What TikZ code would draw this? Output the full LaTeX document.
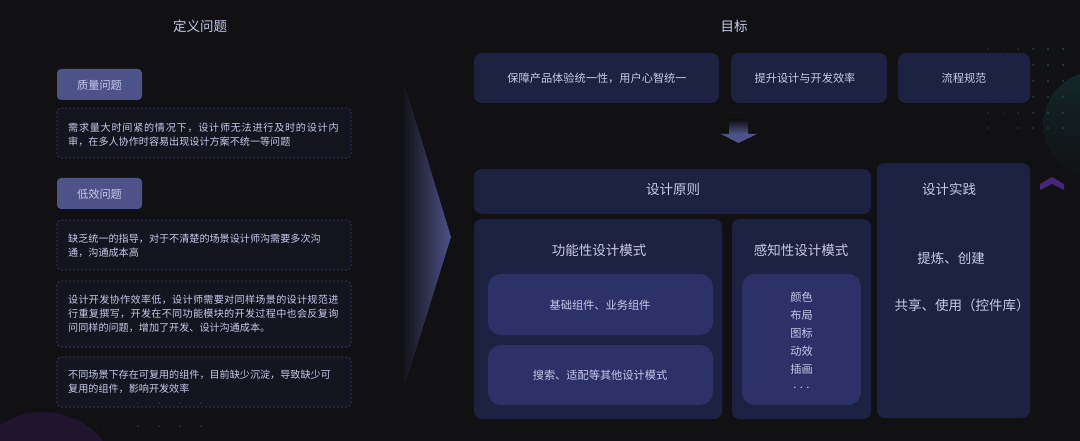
\documentclass[tikz,border=0pt]{standalone}
\usepackage{fontspec}
\setmainfont{Noto Sans CJK SC}
\usepackage{tikz}
\definecolor{pagebg}{HTML}{111114}
\definecolor{panelfill}{HTML}{1F2446}
\definecolor{innerfill}{HTML}{2C3168}
\definecolor{tagfill}{HTML}{4D5288}
\definecolor{notefill}{HTML}{161622}
\definecolor{noteline}{HTML}{453F7A}
\definecolor{inktext}{HTML}{C6C9E8}
\definecolor{dotteal}{HTML}{1A6660}
\definecolor{blobviolet}{HTML}{20152C}
\definecolor{chevronviolet}{HTML}{47267A}
\newcommand{\spreadline}[2]{{\addfontfeature{LetterSpace=#1}#2}}
\tikzset{
  panel/.style={fill=panelfill,fill opacity=0.93,rounded corners=8pt},
  innerpanel/.style={fill=innerfill,rounded corners=13pt},
  tagbox/.style={fill=tagfill,rounded corners=4pt},
  notebox/.style={fill=notefill,fill opacity=0.9,draw=noteline,dash pattern=on 2pt off 2pt,rounded corners=4pt,line width=0.7pt},
  lbl/.style={text=inktext,font=\fontsize{11.2}{14}\selectfont,inner sep=0pt},
  headlbl/.style={text=inktext,font=\fontsize{13.5}{16}\selectfont,inner sep=0pt},
  notelbl/.style={text=inktext,font=\fontsize{10.1}{14}\selectfont,inner sep=0pt,align=left,anchor=west}
}
\begin{document}
\begin{tikzpicture}[x=1pt,y=-1pt]
\useasboundingbox (0,0) rectangle (1080,441);
\fill[pagebg] (0,0) rectangle (1080,441);

% backdrop
\begin{scope}
\clip (0,0) rectangle (1080,441);
\fill[top color=dotteal!28!pagebg,bottom color=pagebg,middle color=dotteal!12!pagebg] (1097,125) circle (54);
\fill[blobviolet] (43,489) circle (77);
\foreach \x/\o in {988/0.5,1003/0.25,1018/0.55,1033/0.75,1048/0.9,1063/0.9}
  \foreach \y in {49,65,81,97,113,128}
    \fill[dotteal,opacity=\o] (\x,\y) circle (0.9);
\foreach \x/\o in {96/0.4,117/0.15,138/0.6,159/0.7,180/0.6,201/0.7}
  \fill[dotteal,opacity=\o] (\x,426) circle (0.9);
\end{scope}
\fill[chevronviolet] (1040,184) -- (1052,177) -- (1064,184) -- (1064,190) -- (1052,184) -- (1040,190) -- cycle;

% big arrow
\fill[left color=pagebg,right color=tagfill] (402,75) -- (451,237) -- (402,395) -- cycle;

% left column
\node[headlbl] (titleleft) at (200,26) {定义问题};
\fill[tagbox] (57,69) rectangle (142,100);
\node[lbl] (tagone) at (99.5,85.5) {质量问题};
\draw[notebox] (57,108) rectangle (351,158);
\node[notelbl] (noteone) at (68,135) {\spreadline{7.4}{需求量大时间紧的情况下，设计师无法进行及时的设计内}\\审，在多人协作时容易出现设计方案不统一等问题};
\fill[tagbox] (57,178) rectangle (142,209);
\node[lbl] (tagtwo) at (99.5,194.5) {低效问题};
\draw[notebox] (57,220) rectangle (351,270);
\node[notelbl] (notetwo) at (68,246) {缺乏统一的指导，对于不清楚的场景设计师沟需要多次沟\\通，沟通成本高};
\draw[notebox] (57,281) rectangle (351,347);
\node[notelbl] (notethree) at (68,314) {\spreadline{3}{设计开发协作效率低，设计师需要对同样场景的设计规范进}\\\spreadline{3}{行重复撰写，开发在不同功能模块的开发过程中也会反复询}\\问同样的问题，增加了开发、设计沟通成本。};
\draw[notebox] (57,357) rectangle (351,407);
\node[notelbl] (notefour) at (68,382) {不同场景下存在可复用的组件，目前缺少沉淀，导致缺少可\\复用的组件，影响开发效率};
\foreach \x/\o in {96/0.4,117/0.1,138/0.5,159/0.6,180/0.5,201/0.6}
  \fill[dotteal,opacity=\o] (\x,403) circle (0.9);

% goals
\node[headlbl] (titleright) at (734,26) {目标};
\fill[panel] (474,53) rectangle (719,103);
\fill[panel] (731,53) rectangle (887,103);
\fill[panel] (898,53) rectangle (1030,103);
\node[lbl] (goalone) at (597,78.5) {保障产品体验统一性，用户心智统一};
\node[lbl] (goaltwo) at (805,78.5) {提升设计与开发效率};
\node[lbl] (goalthree) at (964,78.5) {流程规范};

% down arrow
\fill[top color=pagebg,bottom color=tagfill] (729,120) rectangle (748,134);
\fill[tagfill] (721,134) -- (757,134) -- (738.5,143) -- cycle;

% lower panels
\fill[panel] (474,169) rectangle (871,214);
\node[headlbl] (principle) at (673,189) {设计原则};
\fill[panel] (877,163) rectangle (1030,418);
\node[headlbl] (practice) at (949,189) {设计实践};
\node[headlbl] (practiceone) at (951,258.5) {提炼、创建};
\node[headlbl] (practicetwo) at (962,305.5) {共享、使用（控件库）};

\fill[panel] (474,219) rectangle (722,419);
\node[headlbl] (funcmode) at (599,250.5) {功能性设计模式};
\fill[innerpanel] (488,274) rectangle (713,335);
\node[lbl] (funcone) at (600,305.5) {基础组件、业务组件};
\fill[innerpanel] (488,345) rectangle (713,405);
\node[lbl] (functwo) at (600,375.5) {搜索、适配等其他设计模式};

\fill[panel] (732,219) rectangle (871,419);
\node[headlbl] (percmode) at (801,250.5) {感知性设计模式};
\fill[innerpanel] (742,274) rectangle (861,405);
\foreach \name/\y/\txt in {color/297.5/颜色,layout/315.5/布局,icon/333.5/图标,motion/351.5/动效,art/369.5/插画,more/388/{. . .}}
  \node[lbl] (perc\name) at (801.5,\y) {\txt};
\end{tikzpicture}
\end{document}
